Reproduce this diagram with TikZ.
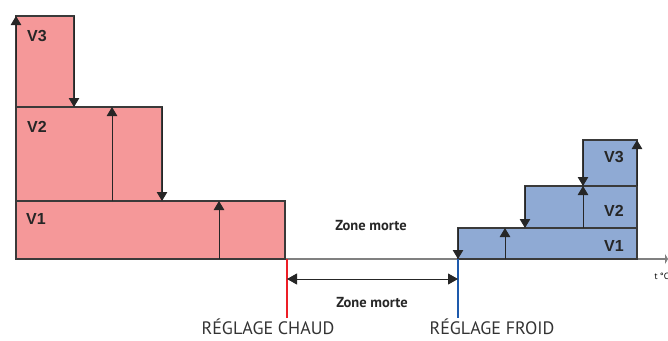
\documentclass[tikz,border=0pt]{standalone}
\usepackage{fontspec}
\setmainfont{PT Sans}
\newfontfamily\vfont{Liberation Sans}
\usepackage{xcolor}
\usepackage{tikz}
\usetikzlibrary{positioning, arrows.meta}

\definecolor{chaud}{RGB}{245,152,153}
\definecolor{froid}{RGB}{143,170,212}
\definecolor{rouge}{RGB}{237,30,38}
\definecolor{bleu}{RGB}{30,90,172}
\definecolor{trait}{RGB}{58,58,58}

\begin{document}
\begin{tikzpicture}[x=1pt,y=-1pt,
    stage/.style={draw=trait,line width=1.1pt,inner sep=0pt,outer sep=0pt,anchor=south west},
    vlabel/.style={font=\vfont\bfseries\fontsize{16}{16}\selectfont,text=black!85},
    rise/.style={-{Triangle[length=9pt,width=10.5pt]},line width=1pt,black!85},
    zone/.style={font=\bfseries\fontsize{14.5}{14.5}\selectfont,text=black!85},
    reglage/.style={font=\fontsize{18}{18}\selectfont,text=black!80,anchor=base,inner sep=0pt}]
    \useasboundingbox (0,0) rectangle (668,340);

    % axe des temperatures
    \draw[gray,line width=1.2pt,-{Triangle[length=3pt,width=10pt]}] (16,259) -- (668,259);
    \node[anchor=west,font=\fontsize{9}{9}\selectfont] (unit) at (651,276) {t °C};

    % chauffage
    \node[stage,fill=chaud,minimum width=269pt,minimum height=58pt] (c1) at (16,259) {};
    \node[stage,fill=chaud,minimum width=146pt,minimum height=94pt] (c2) at (16,201) {};
    \node[stage,fill=chaud,minimum width=58pt,minimum height=91pt] (c3) at (16,107) {};
    \node[vlabel] (cv1) at (36,219) {V1};
    \node[vlabel] (cv2) at (37,127) {V2};
    \node[vlabel] (cv3) at (37,36) {V3};

    \draw[rise] (c1.south -| 219,0) -- (c1.north -| 219,0);
    \draw[rise] (c2.south -| 112,0) -- (c2.north -| 112,0);
    \draw[rise] (c2.north east) -- (c2.south east);
    \draw[rise] (c3.north east) -- (c3.south east);
    \draw[rise] (c3.west |- 0,60) -- (c3.north west);

    % refroidissement
    \node[stage,fill=froid,minimum width=179pt,minimum height=31pt] (f1) at (458,259) {};
    \node[stage,fill=froid,minimum width=112pt,minimum height=42pt] (f2) at (525,228) {};
    \node[stage,fill=froid,minimum width=54pt,minimum height=46pt] (f3) at (583,186) {};
    \node[vlabel] (fv1) at (614,246) {V1};
    \node[vlabel] (fv2) at (614,211) {V2};
    \node[vlabel] (fv3) at (614,157) {V3};

    \draw[rise] (f1.north west) -- (f1.south west);
    \draw[rise] (f1.south -| 505,0) -- (f1.north -| 505,0);
    \draw[rise] (f2.north west) -- (f2.south west);
    \draw[rise] (f2.south -| f3.west) -- (f3.south west);
    \draw[rise] (f3.north west) -- (f3.south west);
    \draw[rise] (f3.south east) -- (f3.north east);

    % consignes
    \coordinate (hot) at (287,259);
    \coordinate (cold) at (458,259);
    \draw[rouge,line width=2.4pt] (hot) -- (hot |- 0,318);
    \draw[bleu,line width=2.4pt] (cold) -- (cold |- 0,318);
    \draw[{Triangle[length=10pt,width=11pt]}-{Triangle[length=10pt,width=11pt]},line width=1pt,black!85]
        (hot |- 0,279) -- (cold |- 0,279);

    \node[zone] (zm1) at (371,226) {Zone morte};
    \node[zone] (zm2) at (372,303) {Zone morte};
    \node[reglage] (rc) at (268,334) {RÉGLAGE CHAUD};
    \node[reglage] (rf) at (492,334) {RÉGLAGE FROID};
\end{tikzpicture}
\end{document}
